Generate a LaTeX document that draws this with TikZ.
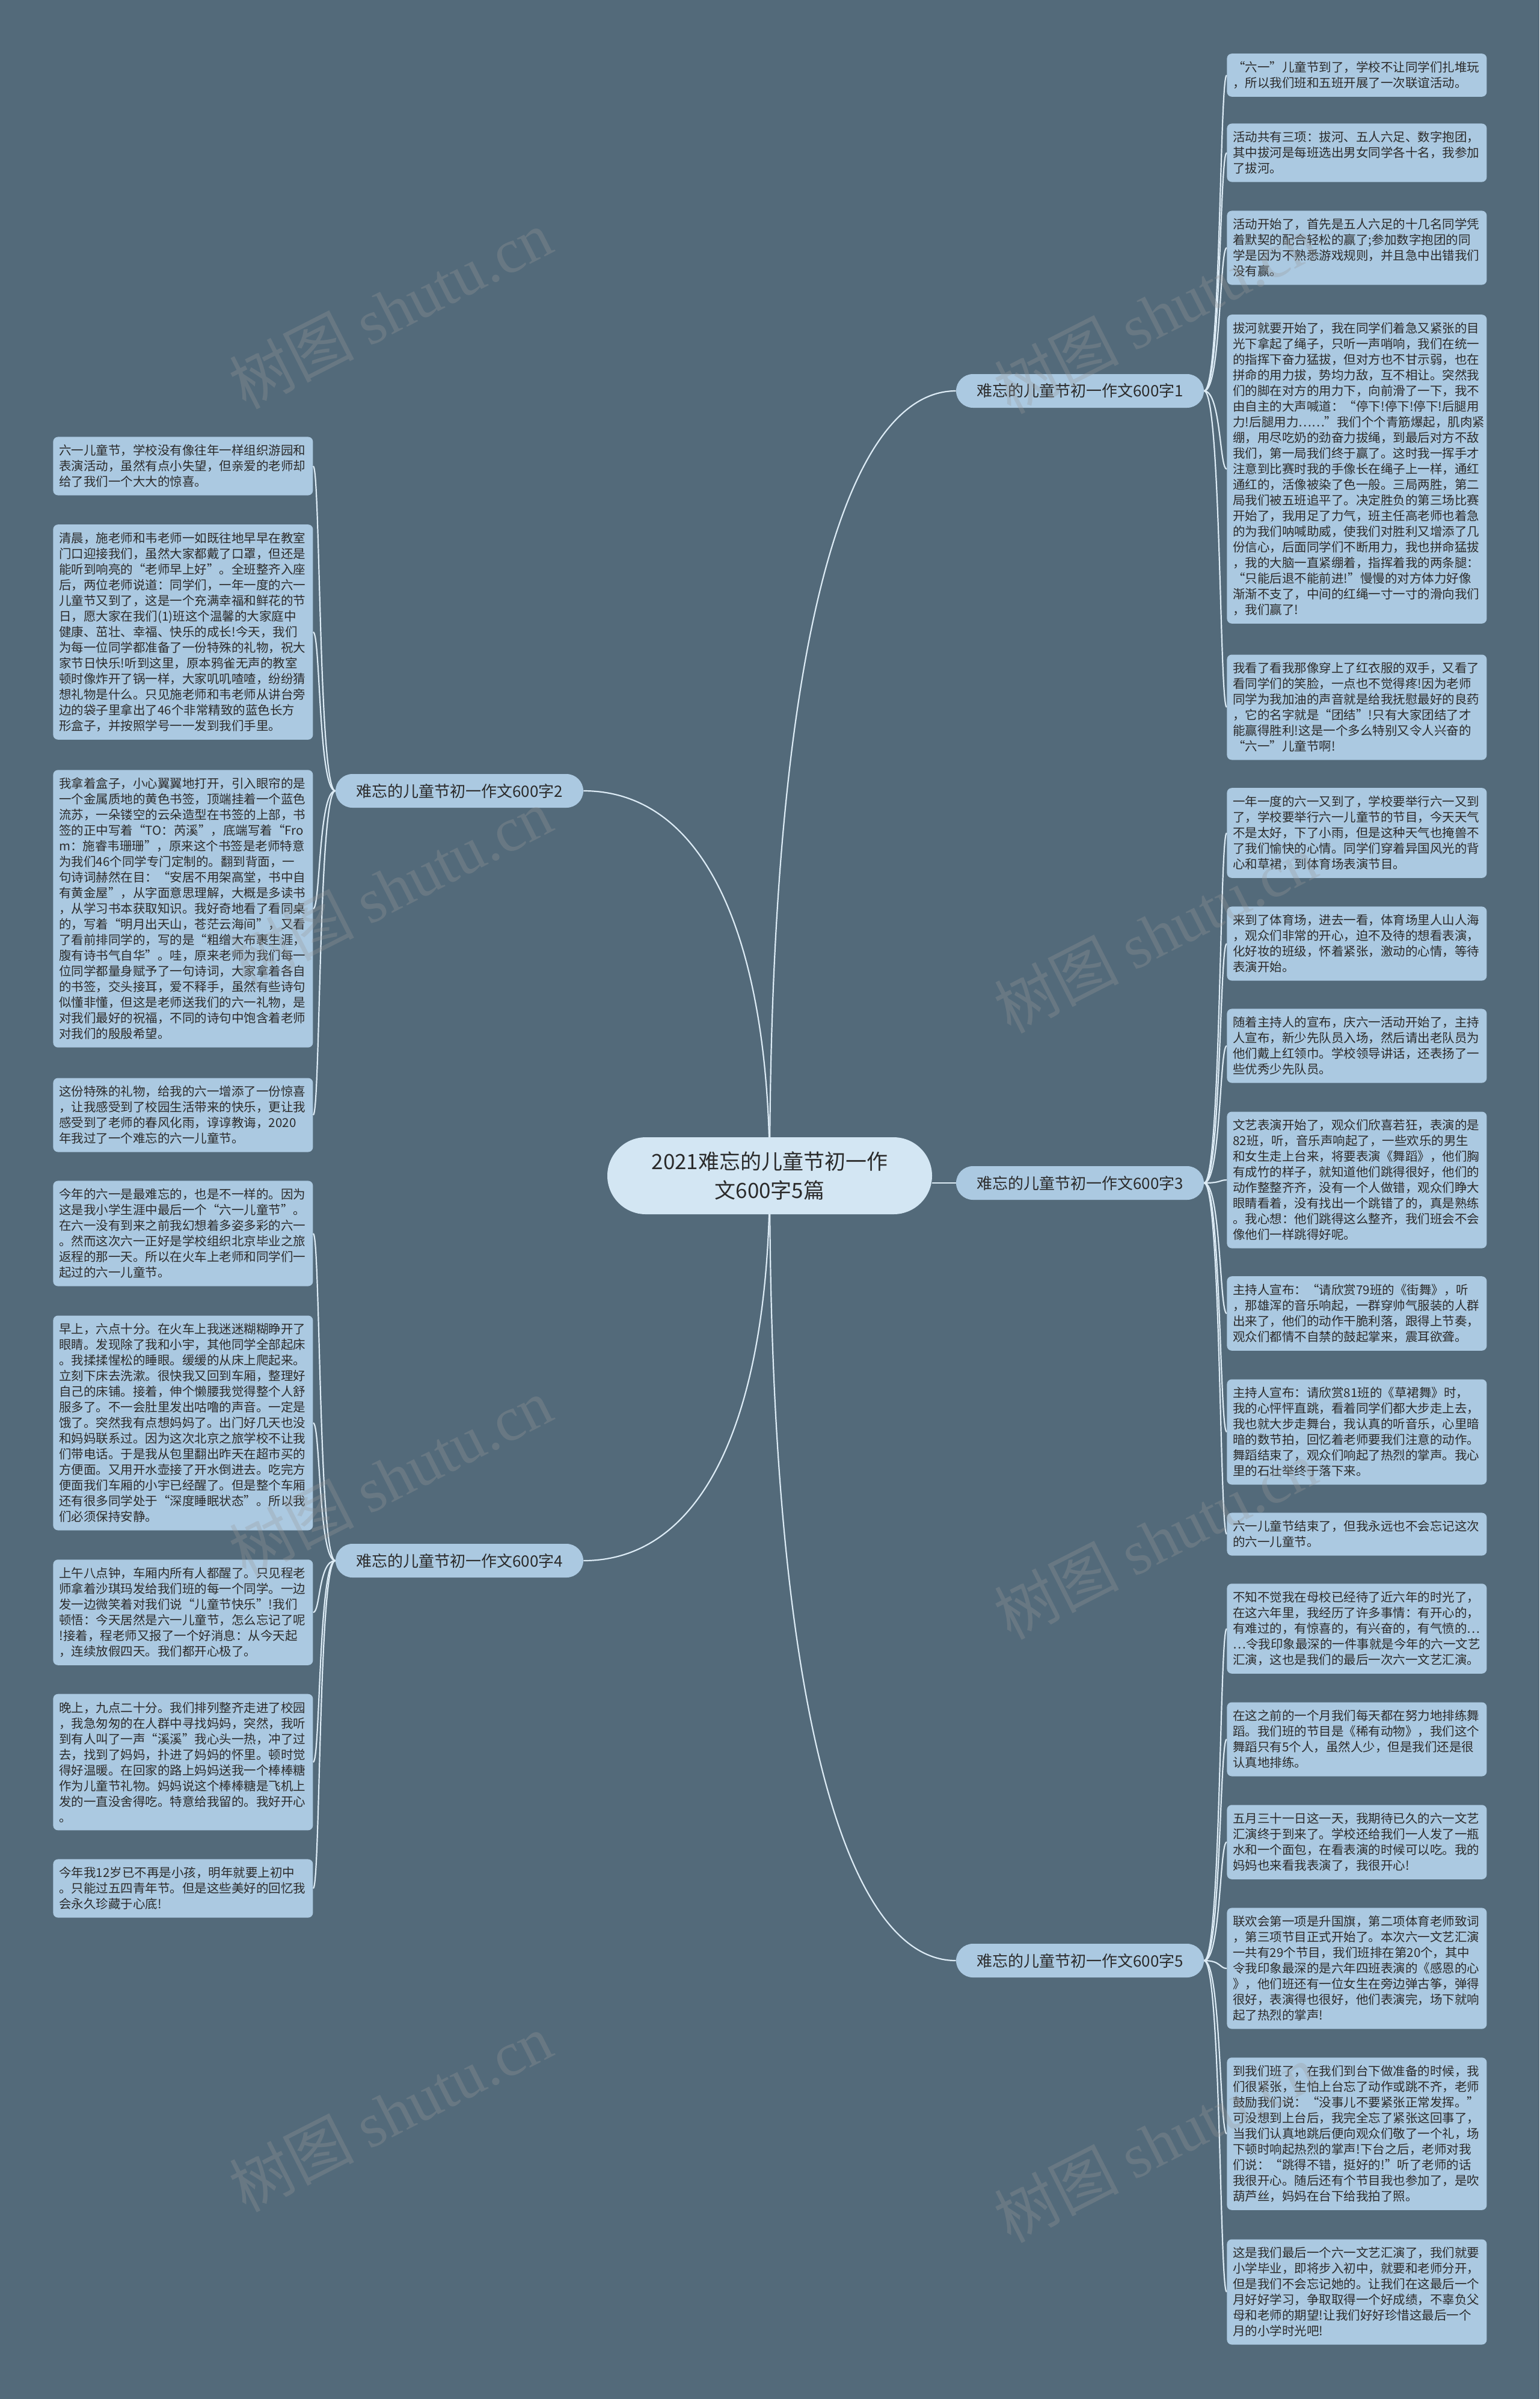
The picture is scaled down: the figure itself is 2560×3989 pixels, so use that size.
\documentclass[tikz,border=0pt]{standalone}
\usepackage{fontspec}
\setmainfont{Noto Sans CJK SC}
\newfontfamily\wmlatin{Liberation Serif}
\usetikzlibrary{backgrounds}
\definecolor{bgc}{HTML}{536A7A}
\definecolor{leafc}{HTML}{ABC9E1}
\definecolor{rootc}{HTML}{D3E6F3}
\definecolor{linec}{HTML}{DCEBF5}
\definecolor{txtc}{HTML}{2B2B2B}
\definecolor{wmc}{HTML}{9A9A9A}
\tikzset{
  leaf/.style={fill=leafc, rounded corners=4pt, text width=206pt, inner xsep=5pt, inner ysep=6.5pt, align=left, font=\fontsize{10.25pt}{13pt}\selectfont, text=txtc, anchor=west},
  branch/.style={fill=leafc, rounded corners=14pt, minimum width=206pt, minimum height=28pt, inner sep=0pt, font=\fontsize{13pt}{15pt}\selectfont, text=txtc},
  root/.style={fill=rootc, rounded corners=32pt, minimum width=270pt, minimum height=64pt, inner sep=0pt, align=center, font=\fontsize{17.5pt}{24pt}\selectfont, text=txtc},
  conn/.style={draw=linec, line width=1.1pt},
  wm/.style={text=wmc, opacity=0.3, rotate=27, font=\fontsize{52pt}{56pt}\selectfont}
}
\begin{document}
\begin{tikzpicture}[x=0.5pt,y=-0.5pt]
\useasboundingbox (0,0) rectangle (2560,3989);
% root and branches
\node[root] (root) at (1280,1955) {2021难忘的儿童节初一作\\文600字5篇};
\node[branch] (b1) at (1796,650) {难忘的儿童节初一作文600字1};
\node[branch] (b2) at (764,1315) {难忘的儿童节初一作文600字2};
\node[branch] (b3) at (1796,1967) {难忘的儿童节初一作文600字3};
\node[branch] (b4) at (764,2595) {难忘的儿童节初一作文600字4};
\node[branch] (b5) at (1796,3260) {难忘的儿童节初一作文600字5};
% branch 1 leaves
\node[leaf] (r1a) at (2040,125) {“六一”儿童节到了，学校不让同学们扎堆玩\\，所以我们班和五班开展了一次联谊活动。};
\node[leaf] (r1b) at (2040,254) {活动共有三项：拔河、五人六足、数字抱团，\\其中拔河是每班选出男女同学各十名，我参加\\了拔河。};
\node[leaf] (r1c) at (2040,412) {活动开始了，首先是五人六足的十几名同学凭\\着默契的配合轻松的赢了;参加数字抱团的同\\学是因为不熟悉游戏规则，并且急中出错我们\\没有赢。};
\node[leaf] (r1d) at (2040,780) {拔河就要开始了，我在同学们着急又紧张的目\\光下拿起了绳子，只听一声哨响，我们在统一\\的指挥下奋力猛拔，但对方也不甘示弱，也在\\拼命的用力拔，势均力敌，互不相让。突然我\\们的脚在对方的用力下，向前滑了一下，我不\\由自主的大声喊道：“停下!停下!停下!后腿用\\力!后腿用力……”我们个个青筋爆起，肌肉紧\\绷，用尽吃奶的劲奋力拔绳，到最后对方不敌\\我们，第一局我们终于赢了。这时我一挥手才\\注意到比赛时我的手像长在绳子上一样，通红\\通红的，活像被染了色一般。三局两胜，第二\\局我们被五班追平了。决定胜负的第三场比赛\\开始了，我用足了力气，班主任高老师也着急\\的为我们呐喊助威，使我们对胜利又增添了几\\份信心，后面同学们不断用力，我也拼命猛拔\\，我的大脑一直紧绷着，指挥着我的两条腿：\\“只能后退不能前进!”慢慢的对方体力好像\\渐渐不支了，中间的红绳一寸一寸的滑向我们\\，我们赢了!};
\node[leaf] (r1e) at (2040,1176) {我看了看我那像穿上了红衣服的双手，又看了\\看同学们的笑脸，一点也不觉得疼!因为老师\\同学为我加油的声音就是给我抚慰最好的良药\\，它的名字就是“团结”!只有大家团结了才\\能赢得胜利!这是一个多么特别又令人兴奋的\\“六一”儿童节啊!};
% branch 3 leaves
\node[leaf] (r3a) at (2040,1385) {一年一度的六一又到了，学校要举行六一又到\\了，学校要举行六一儿童节的节目，今天天气\\不是太好，下了小雨，但是这种天气也掩兽不\\了我们愉快的心情。同学们穿着异国风光的背\\心和草裙，到体育场表演节目。};
\node[leaf] (r3b) at (2040,1569) {来到了体育场，进去一看，体育场里人山人海\\，观众们非常的开心，迫不及待的想看表演，\\化好妆的班级，怀着紧张，激动的心情，等待\\表演开始。};
\node[leaf] (r3c) at (2040,1739) {随着主持人的宣布，庆六一活动开始了，主持\\人宣布，新少先队员入场，然后请出老队员为\\他们戴上红领巾。学校领导讲话，还表扬了一\\些优秀少先队员。};
\node[leaf] (r3d) at (2040,1962) {文艺表演开始了，观众们欣喜若狂，表演的是\\82班，听，音乐声响起了，一些欢乐的男生\\和女生走上台来，将要表演《舞蹈》，他们胸\\有成竹的样子，就知道他们跳得很好，他们的\\动作整整齐齐，没有一个人做错，观众们睁大\\眼睛看着，没有找出一个跳错了的，真是熟练\\。我心想：他们跳得这么整齐，我们班会不会\\像他们一样跳得好呢。};
\node[leaf] (r3e) at (2040,2184) {主持人宣布：“请欣赏79班的《街舞》，听\\，那雄浑的音乐响起，一群穿帅气服装的人群\\出来了，他们的动作干脆利落，跟得上节奏，\\观众们都情不自禁的鼓起掌来，震耳欲聋。};
\node[leaf] (r3f) at (2040,2381) {主持人宣布：请欣赏81班的《草裙舞》时，\\我的心怦怦直跳，看着同学们都大步走上去，\\我也就大步走舞台，我认真的听音乐，心里暗\\暗的数节拍，回忆着老师要我们注意的动作。\\舞蹈结束了，观众们响起了热烈的掌声。我心\\里的石壮举终于落下来。};
\node[leaf] (r3g) at (2040,2551) {六一儿童节结束了，但我永远也不会忘记这次\\的六一儿童节。};
% branch 5 leaves
\node[leaf] (r5a) at (2040,2708) {不知不觉我在母校已经待了近六年的时光了，\\在这六年里，我经历了许多事情：有开心的，\\有难过的，有惊喜的，有兴奋的，有气愤的…\\…令我印象最深的一件事就是今年的六一文艺\\汇演，这也是我们的最后一次六一文艺汇演。};
\node[leaf] (r5b) at (2040,2892) {在这之前的一个月我们每天都在努力地排练舞\\蹈。我们班的节目是《稀有动物》，我们这个\\舞蹈只有5个人，虽然人少，但是我们还是很\\认真地排练。};
\node[leaf] (r5c) at (2040,3063) {五月三十一日这一天，我期待已久的六一文艺\\汇演终于到来了。学校还给我们一人发了一瓶\\水和一个面包，在看表演的时候可以吃。我的\\妈妈也来看我表演了，我很开心!};
\node[leaf] (r5d) at (2040,3273) {联欢会第一项是升国旗，第二项体育老师致词\\，第三项节目正式开始了。本次六一文艺汇演\\一共有29个节目，我们班排在第20个，其中\\令我印象最深的是六年四班表演的《感恩的心\\》，他们班还有一位女生在旁边弹古筝，弹得\\很好，表演得也很好，他们表演完，场下就响\\起了热烈的掌声!};
\node[leaf] (r5e) at (2040,3548) {到我们班了，在我们到台下做准备的时候，我\\们很紧张，生怕上台忘了动作或跳不齐，老师\\鼓励我们说：“没事儿不要紧张正常发挥。”\\可没想到上台后，我完全忘了紧张这回事了，\\当我们认真地跳后便向观众们敬了一个礼，场\\下顿时响起热烈的掌声!下台之后，老师对我\\们说：“跳得不错，挺好的!”听了老师的话\\我很开心。随后还有个节目我也参加了，是吹\\葫芦丝，妈妈在台下给我拍了照。};
\node[leaf] (r5f) at (2040,3811) {这是我们最后一个六一文艺汇演了，我们就要\\小学毕业，即将步入初中，就要和老师分开，\\但是我们不会忘记她的。让我们在这最后一个\\月好好学习，争取取得一个好成绩，不辜负父\\母和老师的期望!让我们好好珍惜这最后一个\\月的小学时光吧!};
% branch 2 leaves
\node[leaf] (l2a) at (88,775) {六一儿童节，学校没有像往年一样组织游园和\\表演活动，虽然有点小失望，但亲爱的老师却\\给了我们一个大大的惊喜。};
\node[leaf] (l2b) at (88,1051) {清晨，施老师和韦老师一如既往地早早在教室\\门口迎接我们，虽然大家都戴了口罩，但还是\\能听到响亮的“老师早上好”。全班整齐入座\\后，两位老师说道：同学们，一年一度的六一\\儿童节又到了，这是一个充满幸福和鲜花的节\\日，愿大家在我们(1)班这个温馨的大家庭中\\健康、茁壮、幸福、快乐的成长!今天，我们\\为每一位同学都准备了一份特殊的礼物，祝大\\家节日快乐!听到这里，原本鸦雀无声的教室\\顿时像炸开了锅一样，大家叽叽喳喳，纷纷猜\\想礼物是什么。只见施老师和韦老师从讲台旁\\边的袋子里拿出了46个非常精致的蓝色长方\\形盒子，并按照学号一一发到我们手里。};
\node[leaf] (l2c) at (88,1511) {我拿着盒子，小心翼翼地打开，引入眼帘的是\\一个金属质地的黄色书签，顶端挂着一个蓝色\\流苏，一朵镂空的云朵造型在书签的上部，书\\签的正中写着“TO：芮溪”，底端写着“Fro\\m：施睿韦珊珊”，原来这个书签是老师特意\\为我们46个同学专门定制的。翻到背面，一\\句诗词赫然在目：“安居不用架高堂，书中自\\有黄金屋”，从字面意思理解，大概是多读书\\，从学习书本获取知识。我好奇地看了看同桌\\的，写着“明月出天山，苍茫云海间”，又看\\了看前排同学的，写的是“粗缯大布裹生涯，\\腹有诗书气自华”。哇，原来老师为我们每一\\位同学都量身赋予了一句诗词，大家拿着各自\\的书签，交头接耳，爱不释手，虽然有些诗句\\似懂非懂，但这是老师送我们的六一礼物，是\\对我们最好的祝福，不同的诗句中饱含着老师\\对我们的殷殷希望。};
\node[leaf] (l2d) at (88,1854) {这份特殊的礼物，给我的六一增添了一份惊喜\\，让我感受到了校园生活带来的快乐，更让我\\感受到了老师的春风化雨，谆谆教诲，2020\\年我过了一个难忘的六一儿童节。};
% branch 4 leaves
\node[leaf] (l4a) at (88,2051) {今年的六一是最难忘的，也是不一样的。因为\\这是我小学生涯中最后一个“六一儿童节”。\\在六一没有到来之前我幻想着多姿多彩的六一\\。然而这次六一正好是学校组织北京毕业之旅\\返程的那一天。所以在火车上老师和同学们一\\起过的六一儿童节。};
\node[leaf] (l4b) at (88,2366) {早上，六点十分。在火车上我迷迷糊糊睁开了\\眼睛。发现除了我和小宇，其他同学全部起床\\。我揉揉惺松的睡眼。缓缓的从床上爬起来。\\立刻下床去洗漱。很快我又回到车厢，整理好\\自己的床铺。接着，伸个懒腰我觉得整个人舒\\服多了。不一会肚里发出咕噜的声音。一定是\\饿了。突然我有点想妈妈了。出门好几天也没\\和妈妈联系过。因为这次北京之旅学校不让我\\们带电话。于是我从包里翻出昨天在超市买的\\方便面。又用开水壶接了开水倒进去。吃完方\\便面我们车厢的小宇已经醒了。但是整个车厢\\还有很多同学处于“深度睡眠状态”。所以我\\们必须保持安静。};
\node[leaf] (l4c) at (88,2681) {上午八点钟，车厢内所有人都醒了。只见程老\\师拿着沙琪玛发给我们班的每一个同学。一边\\发一边微笑着对我们说“儿童节快乐”!我们\\顿悟：今天居然是六一儿童节，怎么忘记了呢\\!接着，程老师又报了一个好消息：从今天起\\，连续放假四天。我们都开心极了。};
\node[leaf] (l4d) at (88,2930) {晚上，九点二十分。我们排列整齐走进了校园\\，我急匆匆的在人群中寻找妈妈，突然，我听\\到有人叫了一声“溪溪”我心头一热，冲了过\\去，找到了妈妈，扑进了妈妈的怀里。顿时觉\\得好温暖。在回家的路上妈妈送我一个棒棒糖\\作为儿童节礼物。妈妈说这个棒棒糖是飞机上\\发的一直没舍得吃。特意给我留的。我好开心\\。};
\node[leaf] (l4e) at (88,3140) {今年我12岁已不再是小孩，明年就要上初中\\。只能过五四青年节。但是这些美好的回忆我\\会永久珍藏于心底!};
% connectors
\begin{scope}[on background layer]
\fill[bgc] (0,0) rectangle (2560,3989);
\draw[conn] (root.center) .. controls +(0,-855) and +(-190,0) .. (b1.west);
\draw[conn] (root.center) .. controls +(0,-400) and +(200,0) .. (b2.east);
\draw[conn] (b3.west -| root.east) -- (b3.west);
\draw[conn] (root.center) .. controls +(0,400) and +(200,0) .. (b4.east);
\draw[conn] (root.center) .. controls +(0,855) and +(-190,0) .. (b5.west);
\foreach \l in {r1a,r1b,r1c,r1d,r1e}
  \draw[conn] (b1.east) .. controls +(28,0) and +(-12,0) .. (\l.west);
\foreach \l in {r3a,r3b,r3c,r3d,r3e,r3f,r3g}
  \draw[conn] (b3.east) .. controls +(28,0) and +(-12,0) .. (\l.west);
\foreach \l in {r5a,r5b,r5c,r5d,r5e,r5f}
  \draw[conn] (b5.east) .. controls +(28,0) and +(-12,0) .. (\l.west);
\foreach \l in {l2a,l2b,l2c,l2d}
  \draw[conn] (b2.west) .. controls +(-28,0) and +(12,0) .. (\l.east);
\foreach \l in {l4a,l4b,l4c,l4d,l4e}
  \draw[conn] (b4.west) .. controls +(-28,0) and +(12,0) .. (\l.east);
\end{scope}
% watermarks
\node[wm] (w1) at (649,514) {树图 {\wmlatin shutu.cn}};
\node[wm] (w2) at (649,1476) {树图 {\wmlatin shutu.cn}};
\node[wm] (w3) at (649,2456) {树图 {\wmlatin shutu.cn}};
\node[wm] (w4) at (649,3512) {树图 {\wmlatin shutu.cn}};
\node[wm] (w5) at (1921,522) {树图 {\wmlatin shutu.cn}};
\node[wm] (w6) at (1921,1552) {树图 {\wmlatin shutu.cn}};
\node[wm] (w7) at (1921,2560) {树图 {\wmlatin shutu.cn}};
\node[wm] (w8) at (1921,3563) {树图 {\wmlatin shutu.cn}};
\end{tikzpicture}
\end{document}
